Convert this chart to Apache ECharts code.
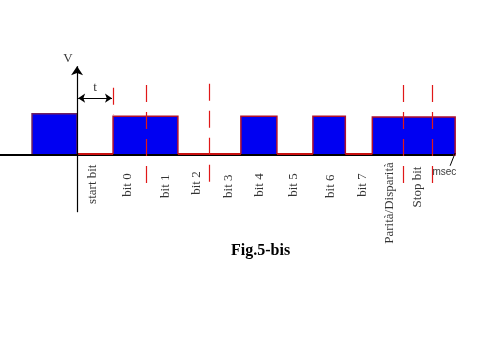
<!DOCTYPE html>
<html>
<head>
<meta charset="utf-8">
<script src="https://cdn.jsdelivr.net/npm/echarts@6/dist/echarts.min.js"></script>
<style>
  html, body { margin: 0; padding: 0; background: #fff; }
  #main { width: 480px; height: 360px; }
</style>
</head>
<body>
<div id="main"></div>
<script>
// time in units of one bit (t), level 1 = high
const levelEdges = [-1.25, 0, 1, 2.8, 4.55, 5.55, 6.55, 7.45, 8.2, 10.5];
const levels = [1.03, 0, 0.97, 0, 0.97, 0, 0.97, 0, 0.95];

const bitNames = ['start bit', 'bit 0', 'bit 1', 'bit 2', 'bit 3', 'bit 4', 'bit 5',
    'bit 6', 'bit 7', 'Parità/Disparità', 'Stop bit'];
const bitLabelX = [0.44, 1.39, 2.47, 3.31, 4.22, 5.06, 6.0, 7.03, 7.92, 8.67, 9.47];
const bitLabelY = [-0.73, -0.75, -0.78, -0.7, -0.78, -0.75, -0.75, -0.78, -0.75, -1.2, -0.8];

// dashed red markers
const markerX = [1, 1.92, 3.67, 9.06, 9.86];
const markerTop = [1.68, 1.75, 1.78, 1.75, 1.75];
const markerBottom = [1.0, -0.88, -0.75, -0.88, -0.75];

let segs = [];
for (let i = 0; i < levels.length; i++) {
    segs.push([levelEdges[i], levelEdges[i + 1], levels[i]]);
}

function renderSeg(params, api) {
    let x0 = api.value(0), x1 = api.value(1), lv = api.value(2);
    let p0 = api.coord([x0, 0]);
    let p1 = api.coord([x1, lv]);
    if (lv > 0) {
        return {
            type: 'rect',
            shape: { x: p0[0], y: p1[1], width: p1[0] - p0[0], height: p0[1] - p1[1] },
            style: { fill: '#0000f2', stroke: params.dataIndex === 0 ? '#702060' : '#b0102c', lineWidth: 1.5 }
        };
    }
    return {
        type: 'line',
        shape: { x1: p0[0], y1: p0[1] - 1, x2: p1[0], y2: p0[1] - 1 },
        style: { stroke: '#c81010', lineWidth: 2 }
    };
}

let myChart = echarts.init(document.getElementById('main'));

let options = {
    animation: false,
    title: {
        text: 'Fig.5-bis',
        left: 226,
        top: 238,
        textStyle: { fontFamily: 'Liberation Serif', fontSize: 16, fontWeight: 'bold', color: '#000' }
    },
    grid: { left: 0, right: 0, top: 0, bottom: 0 },
    xAxis: { type: 'value', min: -2.14, max: 11.19, show: false },
    yAxis: { type: 'value', min: -5.125, max: 3.875, show: false },
    series: [
        {
            type: 'custom',
            z: 2,
            renderItem: renderSeg,
            data: segs.filter(s => s[2] > 0)
        },
        {
            type: 'lines',
            coordinateSystem: 'cartesian2d',
            z: 3,
            symbol: ['none', 'none'],
            lineStyle: { color: '#000', width: 2, opacity: 1 },
            data: [{ coords: [[-2.14, 0], [10.45, 0]] }]
        },
        {
            type: 'custom',
            z: 4,
            renderItem: renderSeg,
            data: segs.filter(s => s[2] === 0)
        },
        {
            // V axis
            type: 'lines',
            coordinateSystem: 'cartesian2d',
            z: 5,
            symbol: ['none', 'arrow'],
            symbolSize: 9,
            lineStyle: { color: '#000', width: 1.2, opacity: 1 },
            data: [{ coords: [[0, -1.43], [0, 2.22]] }]
        },
        {
            // t arrow
            type: 'lines',
            coordinateSystem: 'cartesian2d',
            z: 5,
            symbol: ['arrow', 'arrow'],
            symbolSize: 7,
            lineStyle: { color: '#000', width: 1, opacity: 1 },
            data: [{ coords: [[0.03, 1.42], [0.97, 1.42]] }]
        },
        {
            // msec pointer
            type: 'lines',
            coordinateSystem: 'cartesian2d',
            z: 5,
            symbol: ['none', 'none'],
            lineStyle: { color: '#000', width: 1, opacity: 1 },
            data: [{ coords: [[10.5, 0.05], [10.36, -0.27]] }]
        },
        {
            type: 'lines',
            coordinateSystem: 'cartesian2d',
            z: 6,
            symbol: ['none', 'none'],
            lineStyle: { color: '#e01818', width: 1.2, type: [17, 10], opacity: 1 },
            data: markerX.map((x, i) => ({ coords: [[x, markerTop[i]], [x, markerBottom[i]]] }))
        },
        {
            type: 'scatter',
            z: 7,
            symbolSize: 0,
            label: {
                show: true,
                position: 'inside',
                rotate: 90,
                formatter: '{b}',
                color: '#000',
                fontFamily: 'Liberation Serif',
                fontSize: 13
            },
            data: bitNames.map((n, i) => ({ name: n, value: [bitLabelX[i], bitLabelY[i]] }))
        },
        {
            type: 'scatter',
            z: 7,
            symbolSize: 0,
            label: {
                show: true,
                position: 'inside',
                formatter: '{b}',
                color: '#000',
                fontFamily: 'Liberation Serif',
                fontSize: 13
            },
            data: [
                { name: 'V', value: [-0.25, 2.42] },
                { name: 't', value: [0.5, 1.68] },
                { name: 'msec', value: [10.2, -0.42], label: { fontFamily: 'Liberation Sans', fontSize: 10 } }
            ]
        }
    ]
};
myChart.setOption(options);
</script>
</body>
</html>
